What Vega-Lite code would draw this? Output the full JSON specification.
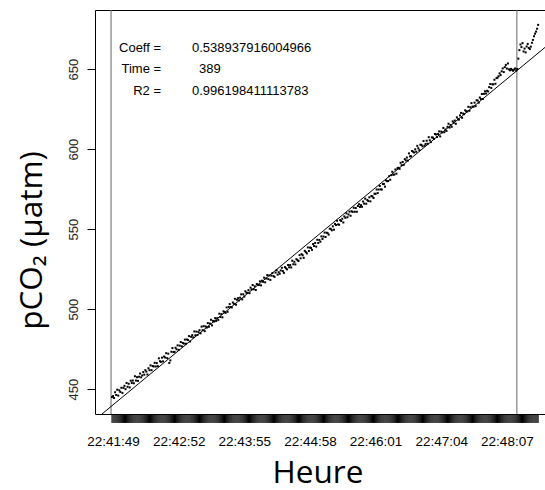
{
  "$schema": "https://vega.github.io/schema/vega-lite/v6.json",
  "autosize": {"type": "none"},
  "padding": {"left": 95, "top": 10, "right": 0, "bottom": 76},
  "width": 452,
  "height": 404,
  "background": "white",
  "config": {
    "view": {"stroke": "black", "strokeWidth": 1},
    "axis": {"grid": false, "domain": false}
  },
  "datasets": {
    "pts": [
      {"t":-1,"p":445.0},{"t":0,"p":445.6},{"t":1,"p":444.4},{"t":2,"p":448.0},{"t":3,"p":446.3},{"t":4,"p":449.6},{"t":5,"p":445.9},{"t":6,"p":449.2},{"t":7,"p":448.2},{"t":8,"p":450.8},{"t":9,"p":447.6},
      {"t":10,"p":450.7},{"t":11,"p":452.0},{"t":12,"p":449.9},{"t":13,"p":453.8},{"t":14,"p":451.4},{"t":15,"p":453.3},{"t":16,"p":451.0},{"t":17,"p":455.2},{"t":18,"p":453.8},{"t":19,"p":455.3},
      {"t":20,"p":453.6},{"t":21,"p":458.0},{"t":22,"p":455.3},{"t":23,"p":457.4},{"t":24,"p":455.1},{"t":25,"p":457.7},{"t":26,"p":459.7},{"t":27,"p":457.3},{"t":28,"p":458.5},{"t":29,"p":460.6},
      {"t":30,"p":459.0},{"t":31,"p":461.8},{"t":32,"p":460.9},{"t":33,"p":459.1},{"t":34,"p":463.0},{"t":35,"p":461.8},{"t":36,"p":464.8},{"t":37,"p":461.8},{"t":38,"p":464.4},{"t":39,"p":464.1},
      {"t":40,"p":466.4},{"t":41,"p":464.1},{"t":42,"p":466.2},{"t":43,"p":464.3},{"t":44,"p":469.2},{"t":45,"p":467.4},{"t":46,"p":467.0},{"t":47,"p":469.6},{"t":48,"p":467.3},{"t":49,"p":470.3},
      {"t":50,"p":469.7},{"t":51,"p":472.4},{"t":52,"p":469.3},{"t":53,"p":472.1},{"t":54,"p":466.3},{"t":55,"p":467.9},{"t":56,"p":473.3},{"t":57,"p":475.6},{"t":58,"p":473.1},{"t":59,"p":473.2},
      {"t":60,"p":475.8},{"t":61,"p":474.8},{"t":62,"p":477.3},{"t":63,"p":474.5},{"t":64,"p":477.1},{"t":65,"p":479.4},{"t":66,"p":476.7},{"t":67,"p":478.8},{"t":68,"p":478.4},{"t":69,"p":480.9},
      {"t":70,"p":478.3},{"t":71,"p":481.0},{"t":72,"p":480.6},{"t":73,"p":483.1},{"t":74,"p":479.7},{"t":75,"p":482.6},{"t":76,"p":483.7},{"t":77,"p":482.3},{"t":78,"p":486.0},{"t":79,"p":483.6},
      {"t":80,"p":485.9},{"t":81,"p":483.8},{"t":82,"p":485.6},{"t":83,"p":486.8},{"t":84,"p":484.8},{"t":85,"p":489.0},{"t":86,"p":486.8},{"t":87,"p":489.3},{"t":88,"p":486.2},{"t":89,"p":489.1},
      {"t":90,"p":488.4},{"t":91,"p":491.2},{"t":92,"p":488.9},{"t":93,"p":490.9},{"t":94,"p":493.3},{"t":95,"p":489.8},{"t":96,"p":492.6},{"t":97,"p":492.2},{"t":98,"p":494.3},{"t":99,"p":492.5},
      {"t":100,"p":494.3},{"t":101,"p":493.2},{"t":102,"p":497.1},{"t":103,"p":495.0},{"t":104,"p":496.9},{"t":105,"p":494.8},{"t":106,"p":498.6},{"t":107,"p":498.1},{"t":108,"p":497.6},{"t":109,"p":501.0},
      {"t":110,"p":498.3},{"t":111,"p":501.3},{"t":112,"p":503.1},{"t":113,"p":501.3},{"t":114,"p":501.0},{"t":115,"p":504.1},{"t":116,"p":503.3},{"t":117,"p":506.4},{"t":118,"p":502.7},{"t":119,"p":505.8},
      {"t":120,"p":506.8},{"t":121,"p":505.4},{"t":122,"p":507.1},{"t":123,"p":509.2},{"t":124,"p":506.0},{"t":125,"p":509.2},{"t":126,"p":507.8},{"t":127,"p":511.1},{"t":128,"p":510.2},{"t":129,"p":510.1},
      {"t":130,"p":511.8},{"t":131,"p":509.9},{"t":132,"p":513.4},{"t":133,"p":512.3},{"t":134,"p":515.0},{"t":135,"p":512.4},{"t":136,"p":514.2},{"t":137,"p":511.9},{"t":138,"p":515.6},{"t":139,"p":515.3},
      {"t":140,"p":515.0},{"t":141,"p":517.3},{"t":142,"p":514.8},{"t":143,"p":517.7},{"t":144,"p":517.0},{"t":145,"p":519.6},{"t":146,"p":516.7},{"t":147,"p":519.1},{"t":148,"p":521.2},{"t":149,"p":518.7},
      {"t":150,"p":521.0},{"t":151,"p":518.2},{"t":152,"p":520.9},{"t":153,"p":522.5},{"t":154,"p":520.6},{"t":155,"p":520.1},{"t":156,"p":522.8},{"t":157,"p":524.3},{"t":158,"p":521.5},{"t":159,"p":523.0},
      {"t":160,"p":522.1},{"t":161,"p":524.1},{"t":162,"p":525.8},{"t":163,"p":523.7},{"t":164,"p":522.6},{"t":165,"p":526.2},{"t":166,"p":525.5},{"t":167,"p":524.8},{"t":168,"p":527.5},{"t":169,"p":526.1},
      {"t":170,"p":527.5},{"t":171,"p":526.0},{"t":172,"p":530.2},{"t":173,"p":528.0},{"t":174,"p":529.5},{"t":175,"p":527.9},{"t":176,"p":531.2},{"t":177,"p":530.6},{"t":178,"p":530.0},{"t":179,"p":533.7},
      {"t":180,"p":531.7},{"t":181,"p":534.3},{"t":182,"p":533.6},{"t":183,"p":532.0},{"t":184,"p":536.4},{"t":185,"p":535.6},{"t":186,"p":534.8},{"t":187,"p":538.5},{"t":188,"p":536.3},{"t":189,"p":538.4},
      {"t":190,"p":538.2},{"t":191,"p":537.0},{"t":192,"p":540.6},{"t":193,"p":539.4},{"t":194,"p":541.3},{"t":195,"p":539.0},{"t":196,"p":543.3},{"t":197,"p":541.3},{"t":198,"p":543.2},{"t":199,"p":542.1},
      {"t":200,"p":545.4},{"t":201,"p":543.8},{"t":202,"p":545.3},{"t":203,"p":547.8},{"t":204,"p":545.0},{"t":205,"p":547.7},{"t":206,"p":547.4},{"t":207,"p":546.5},{"t":208,"p":550.2},{"t":209,"p":550.1},
      {"t":210,"p":549.2},{"t":211,"p":551.7},{"t":212,"p":549.6},{"t":213,"p":553.2},{"t":214,"p":552.5},{"t":215,"p":555.2},{"t":216,"p":552.9},{"t":217,"p":552.7},{"t":218,"p":555.6},{"t":219,"p":555.0},
      {"t":220,"p":556.4},{"t":221,"p":554.1},{"t":222,"p":557.9},{"t":223,"p":557.0},{"t":224,"p":559.8},{"t":225,"p":557.4},{"t":226,"p":559.1},{"t":227,"p":560.9},{"t":228,"p":558.3},{"t":229,"p":561.1},
      {"t":230,"p":560.7},{"t":231,"p":563.3},{"t":232,"p":560.8},{"t":233,"p":563.1},{"t":234,"p":560.8},{"t":235,"p":564.4},{"t":236,"p":565.5},{"t":237,"p":563.8},{"t":238,"p":564.9},{"t":239,"p":563.9},
      {"t":240,"p":567.2},{"t":241,"p":565.9},{"t":242,"p":569.0},{"t":243,"p":565.8},{"t":244,"p":568.2},{"t":245,"p":567.5},{"t":246,"p":569.8},{"t":247,"p":567.3},{"t":248,"p":570.6},{"t":249,"p":570.4},
      {"t":250,"p":569.4},{"t":251,"p":572.1},{"t":252,"p":572.0},{"t":253,"p":574.7},{"t":254,"p":572.5},{"t":255,"p":574.7},{"t":256,"p":576.9},{"t":257,"p":574.8},{"t":258,"p":574.7},{"t":259,"p":578.1},
      {"t":260,"p":578.2},{"t":261,"p":576.5},{"t":262,"p":580.4},{"t":263,"p":579.9},{"t":264,"p":580.0},{"t":265,"p":583.0},{"t":266,"p":580.8},{"t":267,"p":583.7},{"t":268,"p":585.8},{"t":269,"p":583.9},
      {"t":270,"p":584.1},{"t":271,"p":587.2},{"t":272,"p":584.6},{"t":273,"p":588.0},{"t":274,"p":588.3},{"t":275,"p":587.6},{"t":276,"p":591.4},{"t":277,"p":589.9},{"t":278,"p":591.9},{"t":279,"p":590.1},
      {"t":280,"p":593.7},{"t":281,"p":592.9},{"t":282,"p":594.7},{"t":283,"p":592.8},{"t":284,"p":597.3},{"t":285,"p":595.4},{"t":286,"p":595.5},{"t":287,"p":598.8},{"t":288,"p":598.3},{"t":289,"p":597.8},
      {"t":290,"p":599.8},{"t":291,"p":598.3},{"t":292,"p":602.0},{"t":293,"p":600.5},{"t":294,"p":599.3},{"t":295,"p":602.7},{"t":296,"p":602.6},{"t":297,"p":601.7},{"t":298,"p":605.0},{"t":299,"p":602.1},
      {"t":300,"p":603.2},{"t":301,"p":605.2},{"t":302,"p":603.3},{"t":303,"p":607.4},{"t":304,"p":605.5},{"t":305,"p":604.3},{"t":306,"p":607.3},{"t":307,"p":607.1},{"t":308,"p":606.3},{"t":309,"p":609.4},
      {"t":310,"p":609.1},{"t":311,"p":607.5},{"t":312,"p":609.4},{"t":313,"p":611.0},{"t":314,"p":607.9},{"t":315,"p":610.9},{"t":316,"p":610.4},{"t":317,"p":613.2},{"t":318,"p":610.5},{"t":319,"p":612.2},
      {"t":320,"p":611.3},{"t":321,"p":613.9},{"t":322,"p":615.8},{"t":323,"p":613.4},{"t":324,"p":615.0},{"t":325,"p":613.9},{"t":326,"p":617.3},{"t":327,"p":616.4},{"t":328,"p":617.8},{"t":329,"p":615.8},
      {"t":330,"p":619.8},{"t":331,"p":618.6},{"t":332,"p":618.4},{"t":333,"p":621.0},{"t":334,"p":622.6},{"t":335,"p":619.5},{"t":336,"p":622.2},{"t":337,"p":621.8},{"t":338,"p":624.2},{"t":339,"p":623.6},
      {"t":340,"p":623.5},{"t":341,"p":626.4},{"t":342,"p":623.9},{"t":343,"p":626.1},{"t":344,"p":628.7},{"t":345,"p":626.5},{"t":346,"p":626.5},{"t":347,"p":629.0},{"t":348,"p":626.8},{"t":349,"p":630.5},
      {"t":350,"p":630.3},{"t":351,"p":629.0},{"t":352,"p":632.2},{"t":353,"p":631.3},{"t":354,"p":634.4},{"t":355,"p":631.3},{"t":356,"p":634.5},{"t":357,"p":636.1},{"t":358,"p":634.7},{"t":359,"p":636.4},
      {"t":360,"p":636.0},{"t":361,"p":638.7},{"t":362,"p":640.6},{"t":363,"p":638.2},{"t":364,"p":640.5},{"t":365,"p":640.4},{"t":366,"p":643.3},{"t":367,"p":640.8},{"t":368,"p":644.3},{"t":369,"p":644.6},
      {"t":370,"p":645.5},{"t":371,"p":647.3},{"t":372,"p":646.2},{"t":373,"p":648.6},{"t":374,"p":650.4},{"t":375,"p":648.1},{"t":376,"p":651.2},{"t":377,"p":652.6},{"t":378,"p":650.3},{"t":379,"p":653.5},
      {"t":380,"p":649.8},{"t":381,"p":649.2},{"t":382,"p":650.1},{"t":383,"p":649.5},{"t":384,"p":648.9},{"t":385,"p":649.7},{"t":386,"p":650.4},{"t":387,"p":649.1},{"t":388,"p":650.0},{"t":389,"p":656.5},
      {"t":390,"p":661.8},{"t":391,"p":665.3},{"t":392,"p":663.7},{"t":393,"p":666.2},{"t":394,"p":661.0},{"t":395,"p":662.8},{"t":396,"p":660.4},{"t":397,"p":664.1},{"t":398,"p":665.7},{"t":399,"p":663.2},
      {"t":400,"p":662.5},{"t":401,"p":664.0},{"t":402,"p":666.4},{"t":403,"p":668.2},{"t":404,"p":670.5},{"t":405,"p":672.1},{"t":406,"p":673.4},{"t":407,"p":675.2},{"t":408,"p":677.6}
    ],
    "fit": [{"t": -10.6, "p": 434.4}, {"t": 416.5, "p": 664.55}],
    "bounds": [{"t": -1.9}, {"t": 387.6}],
    "ann": [
      {"label": "Coeff =", "value": "0.538937916004966", "p": 663.3},
      {"label": "Time =", "value": "389", "p": 649.8},
      {"label": "R2 =", "value": "0.996198411113783", "p": 636.4}
    ]
  },
  "layer": [
    {
      "data": {"name": "pts"},
      "mark": {"type": "rule", "clip": false, "color": "black", "strokeWidth": 1},
      "encoding": {
        "x": {"field": "t", "type": "quantitative", "title": "Heure"},
        "y": {"datum": 434.4, "type": "quantitative"},
        "y2": {"datum": 428.8}
      }
    },
    {
      "data": {"name": "bounds"},
      "mark": {"type": "rule", "color": "#666666", "strokeWidth": 1},
      "encoding": {
        "x": {"field": "t", "type": "quantitative", "title": "Heure"}
      }
    },
    {
      "data": {"name": "pts"},
      "mark": {"type": "square", "size": 4, "color": "black", "opacity": 1, "clip": true},
      "encoding": {
        "x": {
          "field": "t", "type": "quantitative", "title": "Heure",
          "scale": {"domain": [-17.3, 416.5], "nice": false, "zero": false},
          "axis": {
            "values": [0, 63, 126, 189, 252, 315, 378],
            "labelExpr": "timeFormat(datetime(2020, 0, 1, 22, 41, 49 + datum.value), '%H:%M:%S')",
            "ticks": false,
            "labelFlush": false,
            "labelFont": "Liberation Sans",
            "labelFontSize": 13.5,
            "labelColor": "black",
            "labelPadding": 20,
            "titleFont": "Open Sans",
            "titleFontSize": 31.5,
            "titleFontWeight": "normal",
            "titleColor": "black",
            "titlePadding": 9.5,
            "titleX": 222.5
          }
        },
        "y": {
          "field": "p", "type": "quantitative", "title": "pCO₂ (µatm)",
          "scale": {"domain": [434.4, 686.9], "nice": false, "zero": false},
          "axis": {
            "values": [450, 500, 550, 600, 650],
            "ticks": true,
            "tickSize": 8,
            "tickWidth": 1,
            "tickColor": "black",
            "labelAngle": -90,
            "labelAlign": "center",
            "labelBaseline": "bottom",
            "labelFlush": false,
            "labelPadding": 7,
            "labelFont": "Liberation Sans",
            "labelFontSize": 13,
            "labelColor": "#222222",
            "titleFont": "Open Sans",
            "titleFontSize": 31.5,
            "titleFontWeight": "normal",
            "titleColor": "black",
            "titlePadding": 19,
            "titleY": 230
          }
        }
      }
    },
    {
      "data": {"name": "fit"},
      "mark": {"type": "line", "color": "black", "strokeWidth": 1, "clip": true},
      "encoding": {
        "x": {"field": "t", "type": "quantitative", "title": "Heure"},
        "y": {"field": "p", "type": "quantitative", "title": "pCO₂ (µatm)"}
      }
    },
    {
      "data": {"name": "ann"},
      "mark": {"type": "text", "align": "right", "baseline": "middle", "font": "Liberation Sans", "fontSize": 13, "color": "black"},
      "encoding": {
        "x": {"datum": 46.1, "type": "quantitative"},
        "y": {"field": "p", "type": "quantitative", "title": "pCO₂ (µatm)"},
        "text": {"field": "label"}
      }
    },
    {
      "data": {"name": "ann"},
      "transform": [{"filter": "datum.label !== 'Time ='"}],
      "mark": {"type": "text", "align": "left", "baseline": "middle", "font": "Liberation Sans", "fontSize": 13, "color": "black"},
      "encoding": {
        "x": {"datum": 75.8, "type": "quantitative"},
        "y": {"field": "p", "type": "quantitative", "title": "pCO₂ (µatm)"},
        "text": {"field": "value"}
      }
    },
    {
      "data": {"name": "ann"},
      "transform": [{"filter": "datum.label === 'Time ='"}],
      "mark": {"type": "text", "align": "left", "baseline": "middle", "font": "Liberation Sans", "fontSize": 13, "color": "black"},
      "encoding": {
        "x": {"datum": 82.5, "type": "quantitative"},
        "y": {"field": "p", "type": "quantitative", "title": "pCO₂ (µatm)"},
        "text": {"field": "value"}
      }
    }
  ]
}
